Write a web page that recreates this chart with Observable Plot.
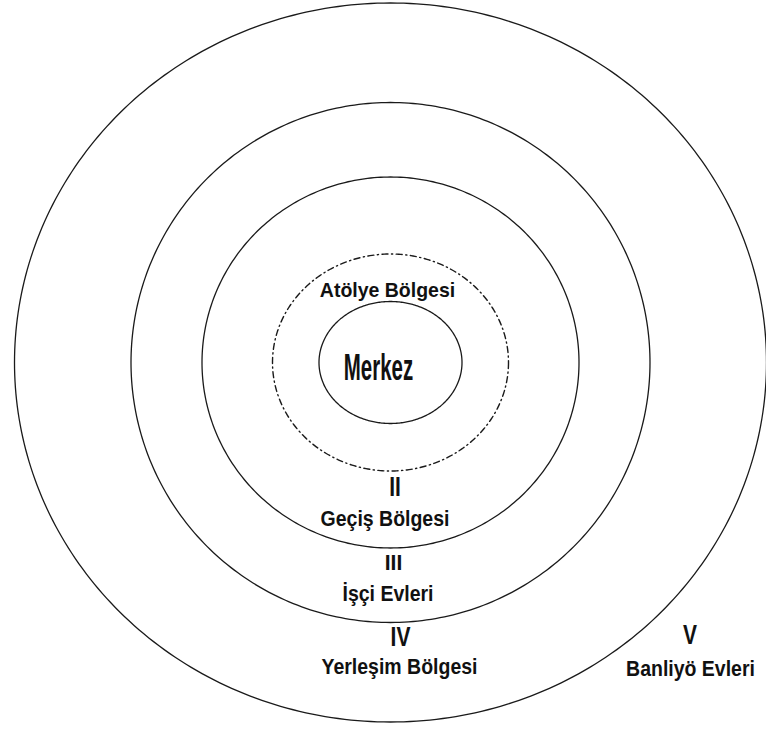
<!DOCTYPE html>
<html>
<head>
<meta charset="utf-8">
<script src="https://cdn.jsdelivr.net/npm/d3@7"></script>
<script src="https://cdn.jsdelivr.net/npm/@observablehq/plot@0.6"></script>
<style>
  html, body { margin: 0; padding: 0; background: #fff; }
</style>
</head>
<body>
<div id="chart"></div>
<script>
// ---- data (diagram units) ----
const center = [390, 362];
const ringNames = ["Merkez", "Atölye Bölgesi", "Geçiş Bölgesi", "İşçi Evleri", "Yerleşim Bölgesi"];
const ringRx = [71.5, 118, 188.5, 259.5, 376];
const ringRy = [61, 108.5, 185.5, 260, 359.5];
const ringDashed = [false, true, false, false, false];

const labelText = ["Merkez", "Atölye Bölgesi", "II", "Geçiş Bölgesi", "III", "İşçi Evleri", "IV", "Yerleşim Bölgesi", "V", "Banliyö Evleri"];
const labelX = [378, 387, 394.5, 384.5, 393, 387.5, 400, 399, 689.5, 690];
const labelY = [379, 296, 495, 525, 569, 600, 645, 673, 643, 675];

// ---- styles ----
const labelSize = [20.5, 19.5, 21, 19.5, 21, 19.5, 21, 19.5, 21, 19.5];
const labelStretch = [1.77, 1.08, 1.35, 1.1, 1.07, 1.1, 1.35, 1.1, 1.35, 1.1];

// ---- build ellipse outlines from radii ----
const ringPts = [];
ringNames.forEach((name, i) => {
  const n = 360;
  for (let k = 0; k <= n; k++) {
    const t = (k / n) * 2 * Math.PI;
    ringPts.push({
      ring: name,
      dashed: ringDashed[i],
      x: center[0] + ringRx[i] * Math.cos(t),
      y: center[1] + ringRy[i] * Math.sin(t)
    });
  }
});

const labels = labelText.map((t, i) => ({text: t, x: labelX[i], y: labelY[i], size: labelSize[i]}));

const svg = Plot.plot({
  width: 766,
  height: 729,
  margin: 0,
  x: {domain: [0, 766], range: [0, 766], axis: null},
  y: {domain: [0, 729], range: [0, 729], axis: null},
  style: {background: "#fff"},
  marks: [
    Plot.line(ringPts.filter(d => !d.dashed), {x: "x", y: "y", z: "ring", stroke: "#1a1a1a", strokeWidth: 1.3}),
    Plot.line(ringPts.filter(d => d.dashed), {x: "x", y: "y", z: "ring", stroke: "#1a1a1a", strokeWidth: 1.4, strokeDasharray: "6,3.5,1.2,3.5"}),
    Plot.text(labels, {
      x: "x", y: "y", text: "text",
      fontSize: d => d.size,
      textAnchor: "middle",
      lineAnchor: "bottom",
      fontWeight: "bold",
      fontFamily: "Liberation Sans, Arial, Helvetica, sans-serif",
      fill: "#111"
    })
  ]
});

// vertical stretch of the narrow, tall lettering
d3.select(svg).selectAll("text").each(function() {
  const i = d3.select(this).datum();
  if (typeof i === "number" && labelStretch[i] != null) {
    const tr = this.getAttribute("transform") || "";
    this.setAttribute("transform", tr + ` scale(1,${labelStretch[i]})`);
  }
});

document.getElementById("chart").appendChild(svg);
</script>
</body>
</html>
